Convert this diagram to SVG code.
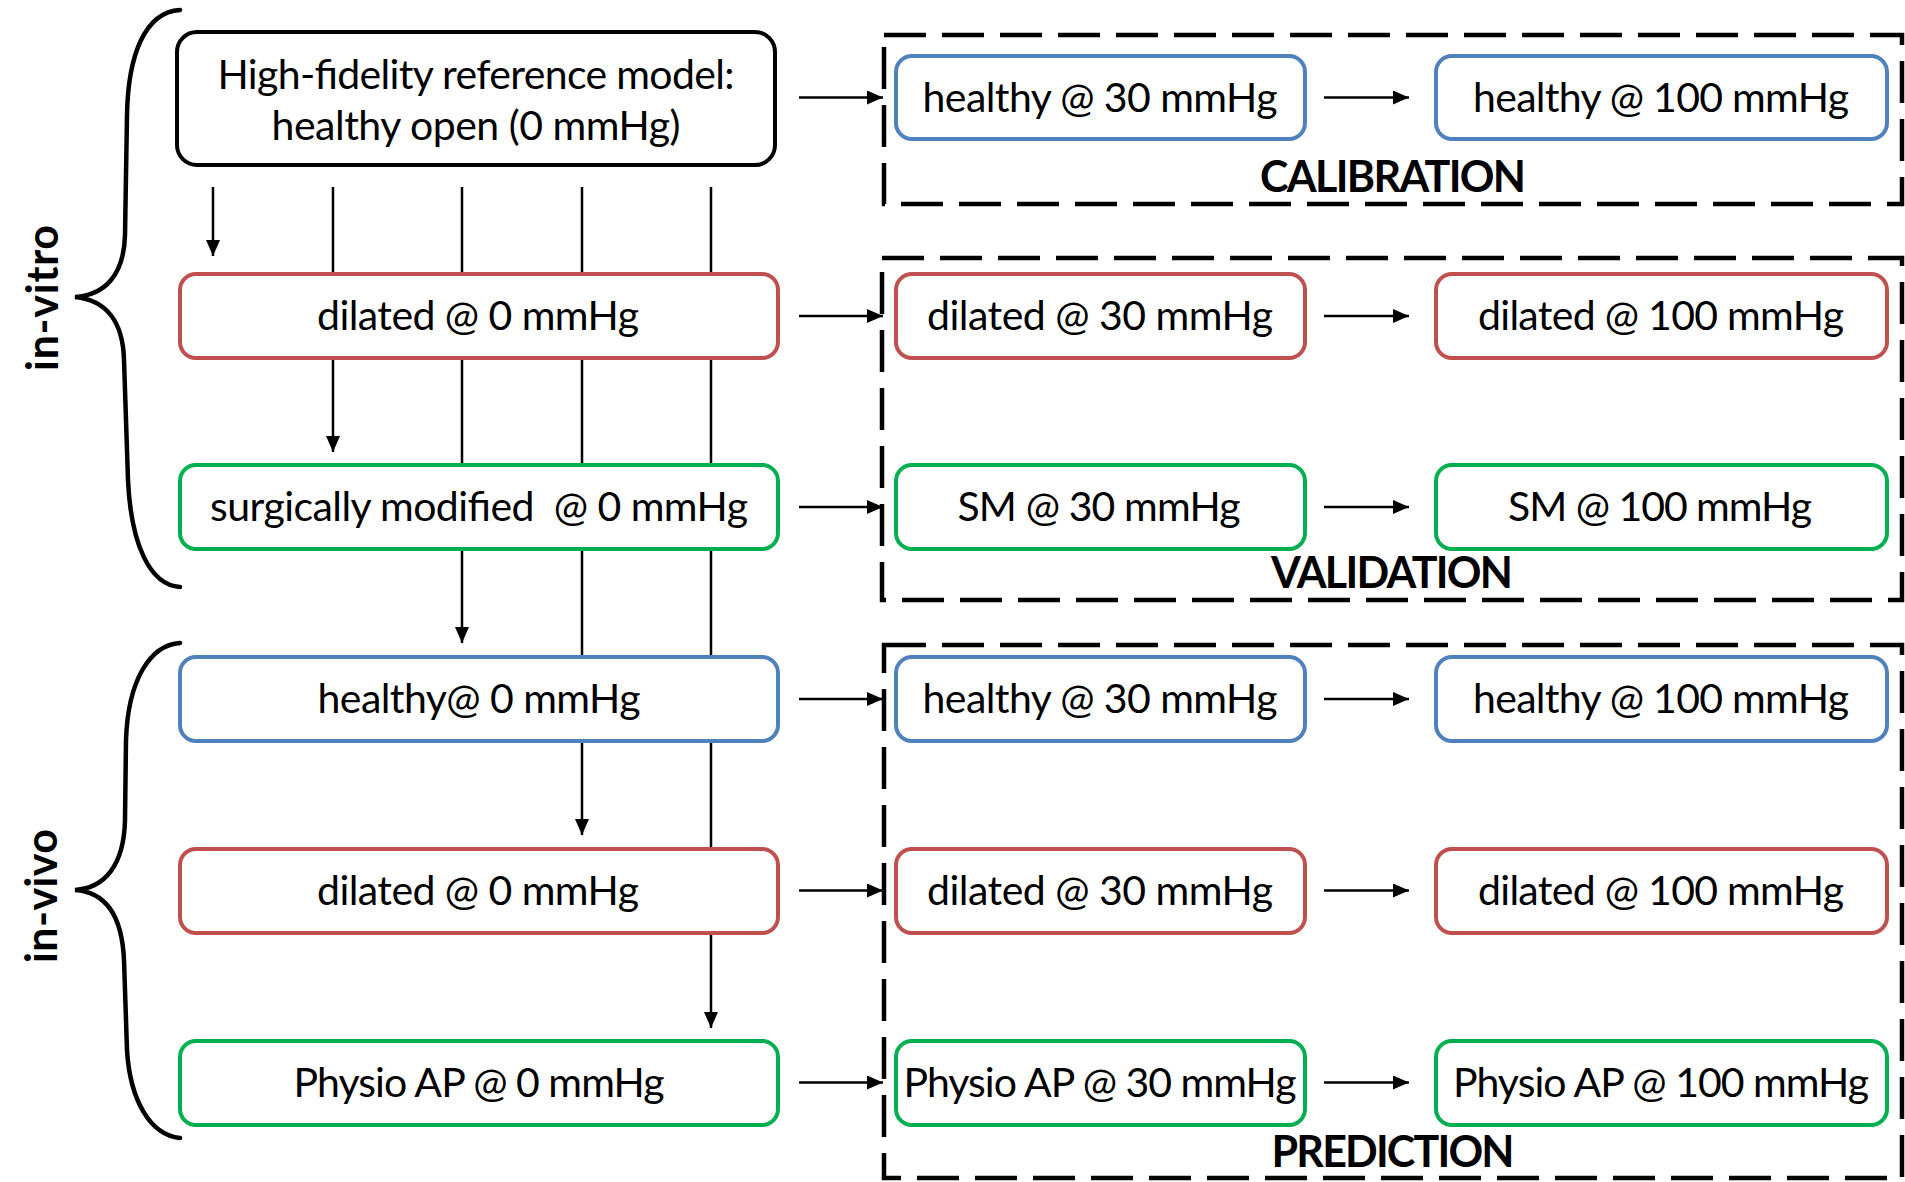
<svg xmlns="http://www.w3.org/2000/svg" width="1905" height="1182" viewBox="0 0 1905 1182">
<style>
.t{font-family:Lato,"Open Sans","Liberation Sans",sans-serif;font-size:41px;fill:#000;text-anchor:middle}
.b{font-family:Lato,"Open Sans","Liberation Sans",sans-serif;font-size:43px;font-weight:bold;fill:#000;text-anchor:middle}
.box{fill:#fff;stroke-width:4}
.blue{stroke:#4F81BD}.red{stroke:#C0504D}.green{stroke:#00B050}.black{stroke:#000}
.dash{fill:none;stroke:#000;stroke-width:4.5;stroke-dasharray:42 16}
.ca{fill:none;stroke:#000;stroke-width:2.5;marker-end:url(#ah)}
.brace{fill:none;stroke:#000;stroke-width:4.5;stroke-linecap:round}
</style>
<defs>
<marker id="ah" markerUnits="userSpaceOnUse" markerWidth="17" markerHeight="15" refX="16" refY="7" orient="auto">
<path d="M0,0 L16,7 L0,14 z" fill="#000"/>
</marker>
</defs>
<rect width="1905" height="1182" fill="#fff"/>

<g id="groups">
<rect class="dash" x="884" y="35" width="1018" height="169"/>
<rect class="dash" x="882" y="258" width="1020" height="342"/>
<rect class="dash" x="884" y="645" width="1018" height="533"/>
<text class="b" x="1393" y="192" textLength="266">CALIBRATION</text>
<text class="b" x="1392" y="588" textLength="242">VALIDATION</text>
<text class="b" x="1393" y="1167" textLength="243">PREDICTION</text>
</g>

<g id="braces">
<path class="brace" d="M180,10 C145,12 128,55 127,115 L125,235 C124,275 105,295 75,297 C105,300 123,320 124,360 L128,480 C131,545 150,585 180,587"/>
<path class="brace" d="M180,643 C150,645 128,680 126,740 L125,820 C124,865 105,888 75,890 C105,892 122,915 124,960 L127,1050 C130,1100 150,1135 180,1138"/>
<text class="b" transform="translate(58,298) rotate(-90)" x="0" y="0" textLength="146">in-vitro</text>
<text class="b" transform="translate(57,896) rotate(-90)" x="0" y="0" textLength="134">in-vivo</text>
</g>

<g id="connectors">
<line class="ca" x1="213" y1="187" x2="213" y2="256"/>
<line class="ca" x1="333" y1="187" x2="333" y2="452"/>
<line class="ca" x1="462" y1="187" x2="462" y2="643"/>
<line class="ca" x1="582" y1="187" x2="582" y2="835"/>
<line class="ca" x1="711" y1="187" x2="711" y2="1028"/>
<line class="ca" x1="799" y1="97.5" x2="883" y2="97.5"/>
<line class="ca" x1="799" y1="316" x2="883" y2="316"/>
<line class="ca" x1="799" y1="507" x2="883" y2="507"/>
<line class="ca" x1="799" y1="699" x2="883" y2="699"/>
<line class="ca" x1="799" y1="890.5" x2="883" y2="890.5"/>
<line class="ca" x1="799" y1="1082.5" x2="883" y2="1082.5"/>
<line class="ca" x1="1324" y1="97.5" x2="1409" y2="97.5"/>
<line class="ca" x1="1324" y1="316" x2="1409" y2="316"/>
<line class="ca" x1="1324" y1="507" x2="1409" y2="507"/>
<line class="ca" x1="1324" y1="699" x2="1409" y2="699"/>
<line class="ca" x1="1324" y1="890.5" x2="1409" y2="890.5"/>
<line class="ca" x1="1324" y1="1082.5" x2="1409" y2="1082.5"/>
</g>

<g id="ref">
<rect class="box black" x="177" y="32" width="598" height="133" rx="20"/>
<text class="t" x="476" y="89" textLength="517">High-fidelity reference model:</text>
<text class="t" x="476" y="139.5" textLength="409">healthy open (0 mmHg)</text>
</g>
<g id="vitro-dilated-0">
<rect class="box red" x="180" y="274" width="598" height="84" rx="16"/>
<text class="t" x="478" y="330" textLength="322">dilated @ 0 mmHg</text>
</g>
<g id="vitro-sm-0">
<rect class="box green" x="180" y="465" width="598" height="84" rx="16"/>
<text class="t" x="479" y="521" textLength="538" xml:space="preserve">surgically modified  @ 0 mmHg</text>
</g>
<g id="vivo-healthy-0">
<rect class="box blue" x="180" y="657" width="598" height="84" rx="16"/>
<text class="t" x="479" y="713" textLength="323">healthy@ 0 mmHg</text>
</g>
<g id="vivo-dilated-0">
<rect class="box red" x="180" y="849" width="598" height="84" rx="16"/>
<text class="t" x="478" y="904.5" textLength="322">dilated @ 0 mmHg</text>
</g>
<g id="vivo-physio-0">
<rect class="box green" x="180" y="1041" width="598" height="84" rx="16"/>
<text class="t" x="479" y="1096.5" textLength="371">Physio AP @ 0 mmHg</text>
</g>

<g id="cal-healthy-30">
<rect class="box blue" x="896" y="56" width="409" height="83" rx="16"/>
<text class="t" x="1100" y="111.5" textLength="355">healthy @ 30 mmHg</text>
</g>
<g id="cal-healthy-100">
<rect class="box blue" x="1436" y="56" width="451" height="83" rx="16"/>
<text class="t" x="1661" y="111.5" textLength="376">healthy @ 100 mmHg</text>
</g>
<g id="val-dilated-30">
<rect class="box red" x="896" y="274" width="409" height="84" rx="16"/>
<text class="t" x="1100" y="330" textLength="346">dilated @ 30 mmHg</text>
</g>
<g id="val-dilated-100">
<rect class="box red" x="1436" y="274" width="451" height="84" rx="16"/>
<text class="t" x="1661" y="330" textLength="366">dilated @ 100 mmHg</text>
</g>
<g id="val-sm-30">
<rect class="box green" x="896" y="465" width="409" height="84" rx="16"/>
<text class="t" x="1099" y="521" textLength="283">SM @ 30 mmHg</text>
</g>
<g id="val-sm-100">
<rect class="box green" x="1436" y="465" width="451" height="84" rx="16"/>
<text class="t" x="1660" y="521" textLength="304">SM @ 100 mmHg</text>
</g>
<g id="pred-healthy-30">
<rect class="box blue" x="896" y="657" width="409" height="84" rx="16"/>
<text class="t" x="1100" y="713" textLength="355">healthy @ 30 mmHg</text>
</g>
<g id="pred-healthy-100">
<rect class="box blue" x="1436" y="657" width="451" height="84" rx="16"/>
<text class="t" x="1661" y="713" textLength="376">healthy @ 100 mmHg</text>
</g>
<g id="pred-dilated-30">
<rect class="box red" x="896" y="849" width="409" height="84" rx="16"/>
<text class="t" x="1100" y="904.5" textLength="346">dilated @ 30 mmHg</text>
</g>
<g id="pred-dilated-100">
<rect class="box red" x="1436" y="849" width="451" height="84" rx="16"/>
<text class="t" x="1661" y="904.5" textLength="366">dilated @ 100 mmHg</text>
</g>
<g id="pred-physio-30">
<rect class="box green" x="896" y="1041" width="409" height="84" rx="16"/>
<text class="t" x="1100" y="1096.5" textLength="393">Physio AP @ 30 mmHg</text>
</g>
<g id="pred-physio-100">
<rect class="box green" x="1436" y="1041" width="451" height="84" rx="16"/>
<text class="t" x="1661" y="1096.5" textLength="416">Physio AP @ 100 mmHg</text>
</g>
</svg>
